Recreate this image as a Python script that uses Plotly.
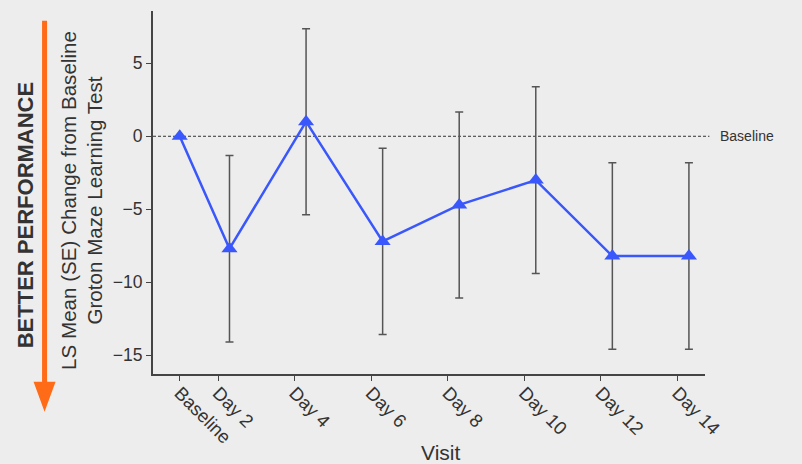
import plotly.graph_objects as go

# ---- data ----
visit_labels = ["Baseline", "Day 2", "Day 4", "Day 6", "Day 8", "Day 10", "Day 12", "Day 14"]
visit_days = [1, 2, 4, 6, 8, 10, 12, 14]
dodge = [0.0, 0.3, 0.3, 0.3, 0.3, 0.3, 0.3, 0.3]
ls_mean = [0.0, -7.7, 1.0, -7.2, -4.7, -3.0, -8.2, -8.2]
se = [None, 6.38, 6.37, 6.38, 6.37, 6.39, 6.38, 6.38]

point_x = [d + o for d, o in zip(visit_days, dodge)]

FONT = "Liberation Sans, Arial, sans-serif"
TXT = "#333333"
BLUE = "#3A57FB"
ORANGE = "#FF6B16"
BG = "#EDEDED"

fig = go.Figure()
fig.add_trace(go.Scatter(
    x=point_x, y=ls_mean, mode="lines+markers",
    line=dict(color=BLUE, width=2.5),
    marker=dict(symbol="triangle-up", size=14, color=BLUE),
    error_y=dict(type="data", array=se, visible=True, color="#555555",
                 thickness=1.5, width=4),
    showlegend=False, cliponaxis=False,
))

# baseline reference line (dotted) and label
fig.add_shape(type="line", xref="paper", yref="y", x0=0, x1=1.008, y0=0, y1=0,
              line=dict(color="#333333", width=1, dash="3px,2px"), layer="below")
fig.add_annotation(xref="paper", yref="y", x=1.024, y=0, text="Baseline",
                   showarrow=False, xanchor="left", yanchor="middle",
                   font=dict(family=FONT, size=14, color=TXT))

# y title
fig.add_annotation(xref="paper", yref="paper", x=-0.129, y=0.479,
                   text="LS Mean (SE) Change from Baseline<br>Groton Maze Learning Test",
                   showarrow=False, textangle=-90, xanchor="center", yanchor="middle",
                   font=dict(family=FONT, size=20.6, color=TXT))
# better performance label
fig.add_annotation(xref="paper", yref="paper", x=-0.2314, y=0.438,
                   text="<b>BETTER PERFORMANCE</b>",
                   showarrow=False, textangle=-90, xanchor="center", yanchor="middle",
                   font=dict(family=FONT, size=22, color=TXT))
# x title
fig.add_annotation(xref="paper", yref="paper", x=0.5207, y=-0.2176, text="Visit",
                   showarrow=False, xanchor="center", yanchor="middle",
                   font=dict(family=FONT, size=21, color=TXT))

# orange arrow (decoration), pixel -> paper conversion
L, R, T, B = 152.7, 704.5, 11.0, 374.0
def px(xp):
    return (xp - L) / (R - L)
def py(yp):
    return (B - yp) / (B - T)

fig.add_shape(type="line", xref="paper", yref="paper",
              x0=px(44.3), x1=px(44.3), y0=py(20.7), y1=py(384),
              line=dict(color=ORANGE, width=5))
fig.add_shape(type="path", xref="paper", yref="paper",
              path=f"M {px(33.3)} {py(381.7)} L {px(55.3)} {py(381.7)} L {px(44.3)} {py(411.7)} Z",
              fillcolor=ORANGE, line=dict(color=ORANGE, width=0))

fig.update_xaxes(
    range=[0.302, 14.72], tickmode="array", tickvals=visit_days, ticktext=visit_labels,
    tickangle=45, ticks="outside", ticklen=5, tickcolor="#444444", tickwidth=1,
    ticklabelstandoff=-6,
    showline=True, linecolor="#444444", linewidth=2, showgrid=False, zeroline=False,
    tickfont=dict(family=FONT, size=18.5, color=TXT),
)
fig.update_yaxes(
    range=[-16.28, 8.58], tickvals=[-15, -10, -5, 0, 5],
    ticks="outside", ticklen=5, tickcolor="#444444", tickwidth=1,
    showline=True, linecolor="#444444", linewidth=2, showgrid=False, zeroline=False,
    tickfont=dict(family=FONT, size=17.5, color=TXT),
)

fig.update_layout(
    width=802, height=464,
    margin=dict(l=153, r=97, t=11, b=90),
    paper_bgcolor=BG, plot_bgcolor=BG,
    font=dict(family=FONT, color=TXT),
)

fig.write_html(
    "out.html",
    config={"displayModeBar": False},
    post_script="document.body.style.margin='0';document.body.style.overflow='hidden';"
                "document.body.style.background='#EDEDED';",
)
